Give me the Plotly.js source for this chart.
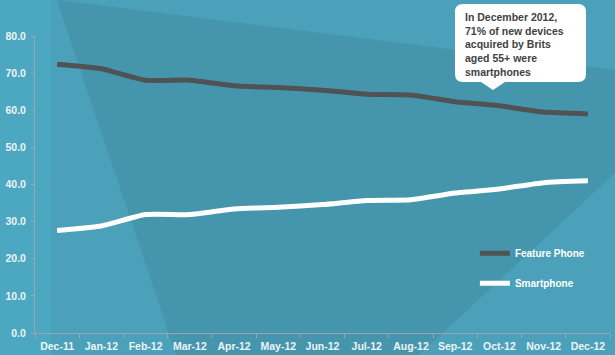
<!DOCTYPE html>
<html>
<head>
<meta charset="utf-8">
<script src="https://cdn.plot.ly/plotly-3.0.1.min.js"></script>
<style>
html,body{margin:0;padding:0;width:615px;height:355px;overflow:hidden;background:#4CA8C0;}
#bg{position:absolute;left:0;top:0;}
#chart{position:absolute;left:0;top:0;width:615px;height:355px;}
</style>
</head>
<body>
<svg id="bg" width="615" height="355" xmlns="http://www.w3.org/2000/svg">
  <rect x="0" y="0" width="615" height="355" fill="#4CA8C0"/>
  <rect x="51" y="0" width="564" height="355" fill="#4AA1B9"/>
  <polygon points="57,0 615,70 615,173 419,355 176,355" fill="#4596AC"/>
  <path d="M463,4 H578 Q586,4 586,12 V74 Q586,82 578,82 H505 L493,90 L481,82 H463 Q455,82 455,74 V12 Q455,4 463,4 Z" fill="#FFFFFF"/>
</svg>
<div id="chart"></div>
<script>
var categories = ["Dec-11","Jan-12","Feb-12","Mar-12","Apr-12","May-12","Jun-12","Jul-12","Aug-12","Sep-12","Oct-12","Nov-12","Dec-12"];
var featurePhone = [72.4, 71.2, 68.1, 68.1, 66.6, 66.1, 65.4, 64.3, 64.1, 62.3, 61.2, 59.5, 59.0];
var smartphone = [27.6, 28.8, 31.9, 31.9, 33.4, 33.9, 34.6, 35.7, 35.9, 37.7, 38.8, 40.5, 41.0];
var yTickVals = [0,10,20,30,40,50,60,70,80];
var yTickText = ["0.0","10.0","20.0","30.0","40.0","50.0","60.0","70.0","80.0"];
var calloutText = "In December 2012,<br>71% of new devices<br>acquired by Brits<br>aged 55+ were<br>smartphones";

var fontFam = "Liberation Sans, Arial, sans-serif";
var tickColor = "#EEF3F5";
var axisColor = "#9AA6AB";

var traces = [
  {x: categories, y: featurePhone, name: "Feature Phone", type: "scatter", mode: "lines",
   legendgroup: "a",
   line: {color: "#505254", width: 5, shape: "spline", smoothing: 0.5}, hoverinfo: "skip"},
  {x: categories, y: smartphone, name: "Smartphone", type: "scatter", mode: "lines",
   legendgroup: "b",
   line: {color: "#FFFFFF", width: 5, shape: "spline", smoothing: 0.5}, hoverinfo: "skip"}
];

var layout = {
  width: 615, height: 355,
  margin: {l: 35, r: 5, t: 36, b: 22, pad: 0},
  paper_bgcolor: "rgba(0,0,0,0)",
  plot_bgcolor: "rgba(0,0,0,0)",
  font: {family: fontFam, color: tickColor},
  showlegend: true,
  legend: {x: 0.765, y: 0.317, xanchor: "left", yanchor: "top", bgcolor: "rgba(0,0,0,0)",
           font: {family: fontFam, size: 10, color: "#FFFFFF", weight: "bold"},
           traceorder: "grouped", tracegroupgap: 11, itemwidth: 30},
  xaxis: {type: "category", range: [-0.5, 12.5], showgrid: false, zeroline: false,
          showline: true, linecolor: axisColor, linewidth: 1,
          ticks: "outside", tickson: "boundaries", ticklen: 4, tickcolor: axisColor,
          tickangle: 0, automargin: false, ticklabelstandoff: 3,
          tickfont: {family: fontFam, size: 10.5, color: tickColor, weight: "bold"},
          fixedrange: true},
  yaxis: {range: [0, 80], tickvals: yTickVals, ticktext: yTickText, showgrid: false, zeroline: false,
          showline: true, linecolor: axisColor, linewidth: 1,
          ticks: "outside", ticklen: 3, tickcolor: axisColor, automargin: false, ticklabelstandoff: 3,
          tickfont: {family: fontFam, size: 10.5, color: tickColor, weight: "bold"},
          fixedrange: true},
  annotations: [{
    text: calloutText, xref: "paper", yref: "paper",
    x: 0.7443, y: 1.091, xanchor: "left", yanchor: "top", align: "left", showarrow: false,
    font: {family: fontFam, size: 10.5, color: "#404244", weight: "bold"}
  }]
};

Plotly.newPlot("chart", traces, layout, {displayModeBar: false, staticPlot: true});
</script>
</body>
</html>
